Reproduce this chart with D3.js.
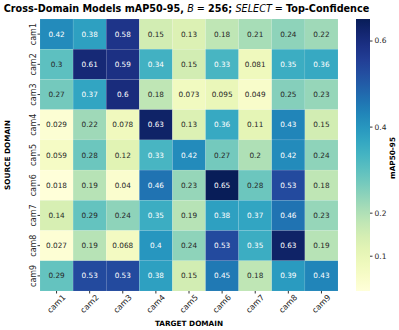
<!DOCTYPE html>
<html>
<head>
  <meta charset="utf-8">
  <style type="text/css">
    body { margin: 0; background: #fff; }
    text { font-family: "DejaVu Sans", sans-serif; }
  </style>
  <script src="https://d3js.org/d3.v7.min.js"></script>
</head>
<body>
  <div id="chart"></div>
  <script type="text/javascript">
    "use strict";
    var cams = ["cam1", "cam2", "cam3", "cam4", "cam5", "cam6", "cam7", "cam8", "cam9"];
    // rows = source domain, columns = target domain
    var cam1Row = [0.42, 0.38, 0.58, 0.15, 0.13, 0.18, 0.21, 0.24, 0.22];
    var cam2Row = [0.3, 0.61, 0.59, 0.34, 0.15, 0.33, 0.081, 0.35, 0.36];
    var cam3Row = [0.27, 0.37, 0.6, 0.18, 0.073, 0.095, 0.049, 0.25, 0.23];
    var cam4Row = [0.029, 0.22, 0.078, 0.63, 0.13, 0.36, 0.11, 0.43, 0.15];
    var cam5Row = [0.059, 0.28, 0.12, 0.33, 0.42, 0.27, 0.2, 0.42, 0.24];
    var cam6Row = [0.018, 0.19, 0.04, 0.46, 0.23, 0.65, 0.28, 0.53, 0.18];
    var cam7Row = [0.14, 0.29, 0.24, 0.35, 0.19, 0.38, 0.37, 0.46, 0.23];
    var cam8Row = [0.027, 0.19, 0.068, 0.4, 0.24, 0.53, 0.35, 0.63, 0.19];
    var cam9Row = [0.29, 0.53, 0.53, 0.38, 0.15, 0.45, 0.18, 0.39, 0.43];
    var rows = [cam1Row, cam2Row, cam3Row, cam4Row, cam5Row, cam6Row, cam7Row, cam8Row, cam9Row];
    var cbarTicks = [0.1, 0.2, 0.4, 0.6];

    var W = 399, H = 330;
    var mLeft = 40, mRight = 338, mTop = 19, mBottom = 291;

    var svg = d3.select("#chart").append("svg")
      .attr("width", W).attr("height", H);

    var cells = [];
    rows.forEach(function (r, i) {
      r.forEach(function (v, j) {
        cells.push({ src: cams[i], tgt: cams[j], v: v });
      });
    });
    var all = cells.map(function (d) { return d.v; });
    var vmin = d3.min(all), vmax = d3.max(all);

    var x = d3.scaleBand().domain(cams).range([mLeft, mRight]);
    var y = d3.scaleBand().domain(cams).range([mTop, mBottom]);
    var color = d3.scaleSequential(d3.interpolateYlGnBu).domain([vmin, vmax]);

    function lum(c) {
      var rgb = d3.rgb(c);
      var f = function (u) { u /= 255; return u <= 0.03928 ? u / 12.92 : Math.pow((u + 0.055) / 1.055, 2.4); };
      return 0.2126 * f(rgb.r) + 0.7152 * f(rgb.g) + 0.0722 * f(rgb.b);
    }

    svg.append("g").selectAll("rect").data(cells).enter().append("rect")
      .attr("x", function (d) { return x(d.tgt); })
      .attr("y", function (d) { return y(d.src); })
      .attr("width", x.bandwidth())
      .attr("height", y.bandwidth())
      .attr("fill", function (d) { return color(d.v); })
      .attr("stroke", "#ffffff").attr("stroke-opacity", 0.15).attr("stroke-width", 0.5);

    svg.append("g").selectAll("text").data(cells).enter().append("text")
      .attr("x", function (d) { return x(d.tgt) + x.bandwidth() / 2; })
      .attr("y", function (d) { return y(d.src) + y.bandwidth() / 2; })
      .attr("text-anchor", "middle").attr("dominant-baseline", "central")
      .style("font-size", "7.3px")
      .attr("fill", function (d) { return lum(color(d.v)) < 0.408 ? "#ffffff" : "#262626"; })
      .text(function (d) { return String(d.v); });

    // x axis
    var gx = svg.append("g").attr("transform", "translate(0," + mBottom + ")")
      .call(d3.axisBottom(x).tickSize(2.5).tickPadding(2));
    gx.select(".domain").remove();
    gx.selectAll("line").attr("stroke", "#333");
    gx.selectAll("text")
      .style("font-size", "8px").attr("fill", "#262626")
      .attr("text-anchor", "middle").attr("dominant-baseline", "central")
      .attr("y", 0).attr("dy", 0)
      .attr("transform", "translate(0,13) rotate(-45)");

    // y axis
    var gy = svg.append("g").attr("transform", "translate(" + mLeft + ",0)")
      .call(d3.axisLeft(y).tickSize(2.5).tickPadding(2));
    gy.select(".domain").remove();
    gy.selectAll("line").attr("stroke", "#333");
    gy.selectAll("text")
      .style("font-size", "8px").attr("fill", "#262626")
      .attr("text-anchor", "middle").attr("dominant-baseline", "central")
      .attr("x", 0).attr("dy", 0).attr("y", 0)
      .attr("transform", "translate(-7,0) rotate(-90)");

    svg.append("text")
      .attr("x", (mLeft + mRight) / 2).attr("y", 326)
      .attr("text-anchor", "middle")
      .style("font-size", "7.3px").style("font-weight", "bold")
      .text("TARGET DOMAIN");
    svg.append("text")
      .attr("transform", "translate(10," + ((mTop + mBottom) / 2) + ") rotate(-90)")
      .attr("text-anchor", "middle")
      .style("font-size", "7.3px").style("font-weight", "bold")
      .text("SOURCE DOMAIN");

    // title
    var title = svg.append("text")
      .attr("x", 186.5).attr("y", 12)
      .attr("text-anchor", "middle")
      .style("font-size", "10px").style("font-weight", "bold");
    title.append("tspan").text("Cross-Domain Models mAP50-95, ");
    title.append("tspan").style("font-style", "italic").style("font-weight", "normal").text("B");
    title.append("tspan").style("font-weight", "normal").text(" = ");
    title.append("tspan").text("256; ");
    title.append("tspan").style("font-style", "italic").style("font-weight", "normal").text("SELECT");
    title.append("tspan").style("font-weight", "normal").text(" = ");
    title.append("tspan").text("Top-Confidence");
    // shrink title to fit the reference width
    var tw = title.node().getComputedTextLength();
    if (tw > 366) title.style("font-size", (10 * 366 / tw) + "px");

    // colorbar
    var cbX = 356, cbW = 14;
    var cy = d3.scaleLinear().domain([vmin, vmax]).range([mBottom, mTop]);
    var defs = svg.append("defs");
    var grad = defs.append("linearGradient").attr("id", "cb")
      .attr("x1", 0).attr("y1", 1).attr("x2", 0).attr("y2", 0);
    d3.range(0, 1.0001, 0.05).forEach(function (t) {
      grad.append("stop").attr("offset", t).attr("stop-color", d3.interpolateYlGnBu(t));
    });
    svg.append("rect").attr("x", cbX).attr("y", mTop)
      .attr("width", cbW).attr("height", mBottom - mTop)
      .attr("fill", "url(#cb)");
    var gc = svg.append("g").attr("transform", "translate(" + (cbX + cbW) + ",0)")
      .call(d3.axisRight(cy).tickValues(cbarTicks).tickSize(2.5).tickPadding(2).tickFormat(d3.format("")));
    gc.select(".domain").remove();
    gc.selectAll("line").attr("stroke", "#333");
    gc.selectAll("text").style("font-size", "7.5px").attr("fill", "#262626");
    svg.append("text")
      .attr("transform", "translate(395," + 158 + ") rotate(-90)")
      .attr("text-anchor", "middle")
      .style("font-size", "7.3px").style("font-weight", "bold")
      .text("mAP50-95");
  </script>
</body>
</html>
